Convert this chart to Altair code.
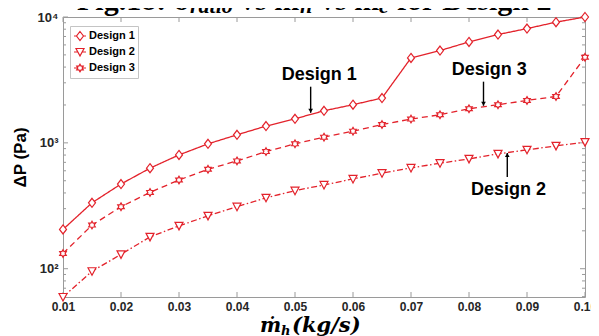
import altair as alt
import pandas as pd

# ---------------- data ----------------
names = ["Design 1", "Design 2", "Design 3"]
mass_flow = [0.010, 0.015, 0.020, 0.025, 0.030, 0.035, 0.040, 0.045, 0.050, 0.055,
             0.060, 0.065, 0.070, 0.075, 0.080, 0.085, 0.090, 0.095, 0.100]
design1 = [205, 334, 471, 629, 802, 982, 1158, 1359, 1553, 1799,
           2009, 2270, 4732, 5409, 6341, 7254, 8091, 9100, 10000]
design2 = [59.6, 95.5, 130, 179, 219, 263, 311, 366, 417, 463,
           517, 574, 632, 689, 746, 817, 880, 946, 1013]
design3 = [132, 222, 311, 404, 507, 617, 719, 852, 982, 1110,
           1239, 1398, 1545, 1671, 1866, 2009, 2173, 2338, 4784]

x_ticks = [0.01, 0.02, 0.03, 0.04, 0.05, 0.06, 0.07, 0.08, 0.09, 0.10]
y_major = [100, 1000, 10000]
y_minor = [60, 70, 80, 90, 200, 300, 400, 500, 600, 700, 800, 900,
           2000, 3000, 4000, 5000, 6000, 7000, 8000, 9000]

# annotations (data coordinates)
ann_text = ["Design 1", "Design 3", "Design 2"]
ann_x = [0.0542, 0.0835, 0.0868]
ann_y = [3177, 3484, 385]
arrow_x = [0.0527, 0.0825, 0.0866]
arrow_from = [2794, 3063, 535]
arrow_to = [1734, 1972, 832]
arrow_dir = ["down", "down", "up"]

title_parts = ["Fig.18: δ", "ratio", "vs ṁ", "h", "vs ṁ", "c", "for Design 2"]
xtitle_parts = ["ṁ", "h", "(kg/s)"]

# ---------------- frames ----------------
rows = []
for s, vals in zip(names, [design1, design2, design3]):
    for xv, yv in zip(mass_flow, vals):
        rows.append({"series": s, "x": xv, "y": yv})
df = pd.DataFrame(rows)

ann_df = pd.DataFrame({"text": ann_text, "x": ann_x, "y": ann_y})
arr_df = pd.DataFrame({"x": arrow_x, "y1": arrow_from, "y2": arrow_to, "dir": arrow_dir})
xt_df = pd.DataFrame({"x": x_ticks})
ymaj_df = pd.DataFrame({"y": y_major})
ymin_df = pd.DataFrame({"y": y_minor})

RED = "#e3222b"
AXC = "#262626"
FRAME = "#9a9a9a"
SANS = "Liberation Sans"

W, H = 522, 280

xscale = alt.Scale(domain=[0.01, 0.10], nice=False, zero=False)
yscale = alt.Scale(type="log", domain=[59.6, 10000], nice=False)

X = alt.X("x:Q", scale=xscale,
          axis=alt.Axis(values=x_ticks, labelExpr="format(datum.value, '.2f')",
                        ticks=False, domain=False, grid=False, title=None,
                        labelFont=SANS, labelFontSize=12, labelFontWeight="bold",
                        labelColor=AXC, labelPadding=4, labelFlush=False))
Y = alt.Y("y:Q", scale=yscale,
          axis=alt.Axis(values=y_major,
                        labelExpr="datum.value >= 10000 ? '10⁴' : (datum.value >= 1000 ? '10³' : '10²')",
                        ticks=False, domain=False, grid=False, title="ΔP (Pa)",
                        labelFont=SANS, labelFontSize=13, labelFontWeight="bold",
                        labelColor=AXC, labelPadding=5, labelFlush=False,
                        titleFont=SANS, titleFontSize=17, titleFontWeight="bold",
                        titleColor="black", titlePadding=8))

# marker paths
diamond = "M0,-0.9L0.7,0L0,0.9L-0.7,0Z"
tri_down = "M-0.8,-0.7L0.8,-0.7L0,0.8Z"
hexagram = ("M0,-0.76L0.219,-0.38L0.658,-0.38L0.439,0L0.658,0.38L0.219,0.38L0,0.76"
            "L-0.219,0.38L-0.658,0.38L-0.439,0L-0.658,-0.38L-0.219,-0.38Z")
leg_d1 = "M-1,0L-0.58,0M0.58,0L1,0M0,-0.75L0.58,0L0,0.75L-0.58,0Z"
leg_d2 = "M-1,0L-0.36,0M0.36,0L1,0M-0.67,-0.58L0.67,-0.58L0,0.67Z"
leg_d3 = ("M-1,0L-0.364,0M0.364,0L1,0"
          "M0,-0.63L0.182,-0.315L0.546,-0.315L0.364,0L0.546,0.315L0.182,0.315L0,0.63"
          "L-0.182,0.315L-0.546,0.315L-0.364,0L-0.546,-0.315L-0.182,-0.315Z")

lines = alt.Chart(df).mark_line(color=RED, strokeWidth=1.3).encode(
    x=X, y=Y,
    strokeDash=alt.StrokeDash("series:N",
                              scale=alt.Scale(domain=names,
                                              range=[[1, 0], [6, 2.5, 1.5, 2.5], [6, 4]]),
                              legend=None),
)

points = alt.Chart(df).mark_point(filled=True, fill="white", stroke=RED,
                                   strokeWidth=1.2, opacity=1, size=100).encode(
    x=X, y=Y,
    shape=alt.Shape("series:N", scale=alt.Scale(domain=names,
                                                range=[diamond, tri_down, hexagram]),
                    legend=None),
)

legend_carrier = alt.Chart(df).transform_filter("false").mark_point(
    filled=False, color=RED, strokeWidth=1.2, opacity=1).encode(
    x=X, y=Y,
    shape=alt.Shape("series:N",
                    scale=alt.Scale(domain=names, range=[leg_d1, leg_d2, leg_d3]),
                    legend=alt.Legend(orient="none", legendX=7, legendY=9, title=None,
                                      symbolSize=144, symbolStrokeWidth=1.2,
                                      symbolStrokeColor=RED, symbolOpacity=1,
                                      labelFont=SANS, labelFontSize=11,
                                      labelFontWeight="bold", labelColor="black",
                                      padding=3, strokeColor="#c4c4c4",
                                      fillColor="white", rowPadding=2, labelOffset=2)),
)

# inner ticks (MATLAB style)
xt_bottom = alt.Chart(xt_df).mark_rule(color=FRAME, strokeWidth=1).encode(
    x=alt.X("x:Q", scale=xscale), y=alt.value(H), y2=alt.value(H - 5))
xt_top = alt.Chart(xt_df).mark_rule(color=FRAME, strokeWidth=1).encode(
    x=alt.X("x:Q", scale=xscale), y=alt.value(0), y2=alt.value(5))
ymaj_l = alt.Chart(ymaj_df).mark_rule(color=FRAME, strokeWidth=1).encode(
    y=alt.Y("y:Q", scale=yscale), x=alt.value(0), x2=alt.value(5))
ymaj_r = alt.Chart(ymaj_df).mark_rule(color=FRAME, strokeWidth=1).encode(
    y=alt.Y("y:Q", scale=yscale), x=alt.value(W), x2=alt.value(W - 5))
ymin_l = alt.Chart(ymin_df).mark_rule(color=FRAME, strokeWidth=1).encode(
    y=alt.Y("y:Q", scale=yscale), x=alt.value(0), x2=alt.value(3))
ymin_r = alt.Chart(ymin_df).mark_rule(color=FRAME, strokeWidth=1).encode(
    y=alt.Y("y:Q", scale=yscale), x=alt.value(W), x2=alt.value(W - 3))

# annotations
ann = alt.Chart(ann_df).mark_text(font=SANS, fontSize=18, fontWeight="bold",
                                  color="black", align="center",
                                  baseline="alphabetic").encode(
    x=alt.X("x:Q", scale=xscale), y=alt.Y("y:Q", scale=yscale), text="text:N")
arr_line = alt.Chart(arr_df).mark_rule(color="black", strokeWidth=1.4).encode(
    x=alt.X("x:Q", scale=xscale), y=alt.Y("y1:Q", scale=yscale), y2="y2:Q")
arr_head_down = alt.Chart(arr_df).transform_filter("datum.dir == 'down'").mark_point(
    shape="triangle-down", filled=True, color="black", size=22, opacity=1,
    yOffset=-2).encode(x=alt.X("x:Q", scale=xscale), y=alt.Y("y2:Q", scale=yscale))
arr_head_up = alt.Chart(arr_df).transform_filter("datum.dir == 'up'").mark_point(
    shape="triangle-up", filled=True, color="black", size=22, opacity=1,
    yOffset=2).encode(x=alt.X("x:Q", scale=xscale), y=alt.Y("y2:Q", scale=yscale))


def txt(s, px, py, size, style="normal", font="Liberation Serif"):
    return alt.Chart(pd.DataFrame({"t": [s]})).mark_text(
        font=font, fontSize=size, fontWeight="bold", fontStyle=style,
        color="black", align="left", baseline="alphabetic").encode(
        x=alt.value(px), y=alt.value(py), text="t:N")


# top title (cut off by the top edge as in the original)
title_layers = [
    txt(title_parts[0], 14, -7, 30),
    txt(title_parts[1], 127, -4, 22, "italic"),
    txt(title_parts[2], 177, -7, 30),
    txt(title_parts[3], 237, -4, 22, "italic"),
    txt(title_parts[4], 257, -7, 30),
    txt(title_parts[5], 316, -4, 22, "italic"),
    txt(title_parts[6], 334, -7, 30),
]

# x axis title
xtitle_layers = [
    txt(xtitle_parts[0], 197, 315, 20, "italic", "DejaVu Serif"),
    txt(xtitle_parts[1], 218, 318, 13, "italic", "DejaVu Serif"),
    txt(xtitle_parts[2], 229, 315, 21, "italic", "DejaVu Serif"),
]

chart = alt.layer(
    xt_bottom, xt_top, ymaj_l, ymaj_r, ymin_l, ymin_r,
    lines, points, legend_carrier,
    arr_line, arr_head_down, arr_head_up, ann,
    *title_layers, *xtitle_layers,
).resolve_scale(shape="independent").properties(
    width=W, height=H,
    padding={"left": 55, "top": 9, "right": 6, "bottom": 39},
    autosize=alt.AutoSizeParams(type="none"),
    background="white",
).configure_view(stroke=FRAME, strokeWidth=1)

chart.save("out.html", embed_options={"renderer": "svg", "actions": False})
